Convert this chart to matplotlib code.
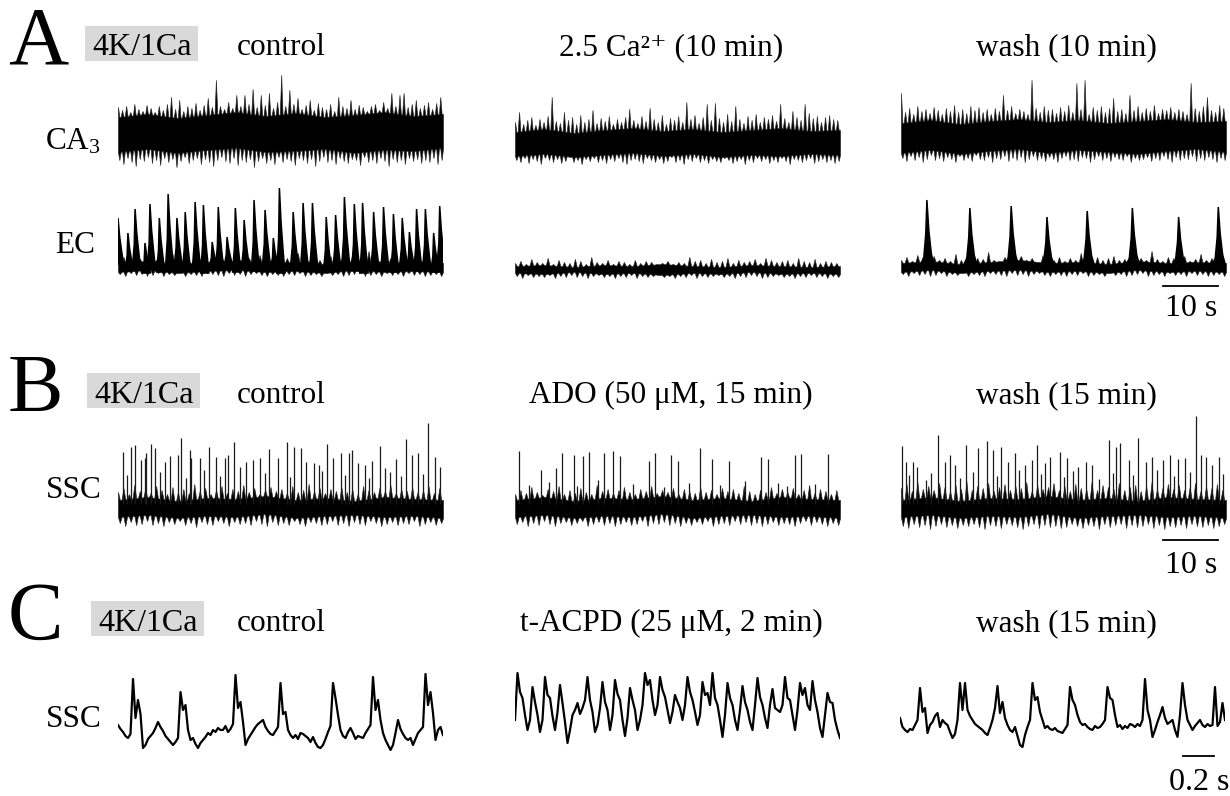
import numpy as np
import matplotlib.pyplot as plt
from matplotlib.patches import Rectangle

plt.rcParams['font.family'] = ['Liberation Serif', 'DejaVu Serif']
plt.rcParams['mathtext.fontset'] = 'custom'
plt.rcParams['mathtext.rm'] = 'Liberation Serif'
plt.rcParams['mathtext.it'] = 'Liberation Serif:italic'

# ---------------- data (amplitudes in a.u., times in s) ----------------
dur_long = 59.0     # A / B sweeps
dur_short = 2.1     # C sweeps

# A, CA3: noise band -> upper / lower excursions sampled evenly, plus core band
ca3_ctrl_up = [65, 62, 66, 60, 68, 63, 61, 67, 64, 60, 66, 62, 68, 75, 63, 72, 61, 66, 64, 69,
               62, 67, 74, 65, 92, 66, 63, 70, 64, 77, 66, 77, 68, 83, 65, 77, 67, 79, 64, 70,
               97, 66, 82, 68, 74, 63, 67, 72, 62, 69, 65, 63, 68, 61, 75, 66, 64, 72, 63, 67,
               65, 61, 66, 68, 62, 70, 64, 79, 66, 77, 79, 65, 68, 72, 64, 67, 70, 63, 69, 75]
ca3_ctrl_dn = [12, 8, 14, 10, 6, 13, 11, 15, 9, 12, 7, 14, 10, 13, 5, 11, 15, 9, 12, 14,
               8, 13, 10, 6, 12, 15, 11, 9, 14, 7, 12, 10, 13, 5, 11, 14, 9, 12, 8, 15,
               10, 13, 11, 7, 14, 12, 9, 13, 6, 11, 15, 10, 12, 8, 14, 11, 9, 13, 12, 7,
               15, 10, 12, 9, 14, 11, 6, 13, 10, 12, 8, 14, 11, 13, 9, 12, 10, 14, 8, 12]
ca3_ctrl_core = ([20, 23, 19, 22, 24, 20, 21, 23, 19, 22, 21, 24],
                 [55, 58, 54, 57, 60, 56, 59, 55, 57, 60, 56, 58])

ca3_ca_up = [50, 60, 48, 52, 55, 47, 53, 50, 56, 75, 51, 49, 60, 52, 55, 48, 57, 50, 53, 62,
             49, 54, 51, 56, 48, 53, 50, 55, 63, 52, 49, 56, 51, 64, 53, 50, 57, 48, 54, 52,
             56, 50, 70, 53, 57, 49, 55, 68, 52, 69, 54, 50, 58, 51, 66, 53, 49, 56, 52, 58,
             50, 55, 53, 57, 51, 68, 54, 50, 61, 55, 52, 68, 59, 54, 56, 50, 55, 57, 53, 52]
ca3_ca_dn = [12, 10, 14, 9, 13, 11, 8, 14, 12, 10, 13, 9, 11, 15, 10, 12, 8, 13, 11, 14,
             10, 12, 9, 13, 11, 14, 10, 8, 12, 13, 11, 9, 14, 12, 10, 13, 9, 11, 15, 10,
             12, 8, 13, 11, 14, 10, 12, 9, 13, 11, 10, 14, 12, 9, 11, 13, 8, 12, 10, 14,
             11, 13, 9, 12, 10, 14, 11, 8, 13, 12, 10, 12, 14, 9, 11, 13, 10, 12, 9, 11]
ca3_ca_core = ([16, 18, 15, 17, 19, 16, 18, 15, 17, 16, 18, 17],
               [40, 43, 39, 42, 44, 41, 43, 40, 42, 44, 41, 42])

ca3_wash_up = [79, 60, 64, 58, 66, 61, 63, 59, 65, 62, 58, 64, 61, 67, 60, 63, 59, 66, 62, 65,
               60, 63, 58, 64, 61, 77, 62, 66, 59, 63, 61, 58, 92, 64, 60, 66, 62, 63, 59, 65,
               61, 67, 60, 89, 63, 92, 58, 65, 62, 66, 60, 64, 74, 61, 63, 59, 77, 62, 66, 60,
               64, 61, 67, 59, 63, 62, 65, 60, 63, 61, 58, 89, 64, 61, 66, 75, 62, 60, 67, 64]
ca3_wash_dn = [14, 11, 16, 12, 15, 10, 13, 17, 12, 14, 11, 15, 13, 10, 16, 12, 14, 11, 17, 13,
               12, 15, 10, 14, 13, 16, 11, 14, 12, 15, 10, 13, 16, 12, 14, 11, 15, 13, 10, 14,
               16, 12, 13, 11, 15, 14, 10, 13, 16, 12, 14, 11, 15, 13, 12, 16, 10, 14, 12, 13,
               15, 11, 14, 12, 16, 13, 10, 15, 12, 14, 13, 16, 11, 14, 12, 15, 13, 10, 14, 12]
ca3_wash_core = ([19, 22, 18, 21, 23, 19, 22, 20, 18, 21, 23, 20],
                 [49, 52, 48, 51, 53, 50, 52, 49, 51, 53, 50, 51])

# A, EC: burst peaks (time, amplitude) on a noisy baseline
ec_ctrl_t = [0.0, 1.8, 3.1, 4.9, 5.8, 7.5, 9.1, 10.7, 12.2, 14.0, 15.5, 17.1, 18.2, 19.8, 21.3,
             22.9, 24.7, 26.7, 28.2, 29.3, 31.8, 33.6, 35.3, 37.8, 39.5, 41.1, 42.9, 44.4, 46.4,
             48.2, 50.0, 51.6, 52.9, 54.2, 55.8, 57.3, 58.4]
ec_ctrl_peak = [64, 49, 73, 39, 78, 64, 88, 64, 70, 80, 77, 40, 75, 45, 74, 62, 82, 72, 44, 94,
                70, 79, 79, 65, 67, 85, 78, 79, 70, 75, 68, 64, 50, 73, 73, 49, 76]
ec_ctrl_trough = [18, 11, 14, 9, 13, 10, 12, 15, 11, 13, 9, 14, 12, 16, 10, 13, 11, 15, 12, 9,
                  14, 11, 13, 10, 12, 15, 11, 9, 13, 12, 10, 14, 12, 11, 13, 10, 15]
ec_wash_t = [4.7, 12.5, 20.0, 26.5, 33.8, 42.0, 50.4, 57.6]
ec_wash_peak = [82, 74, 76, 65, 71, 74, 65, 75]
# burst waveform: time offsets (s) and fraction of peak height
ec_ctrl_shape = ([-0.5, -0.15, 0.0, 0.3, 0.6, 1.0], [0.0, 0.4, 1.0, 0.6, 0.33, 0.0])
ec_wash_shape = ([-1.3, -0.55, -0.2, 0.0, 0.35, 0.8, 1.4], [0.0, 0.15, 0.5, 1.0, 0.55, 0.2, 0.0])

ec_ca_up = [19, 21, 18, 23, 20, 19, 24, 18, 22, 20, 19, 23, 21, 18, 25, 20, 19, 22, 18, 21,
            20, 18, 22, 19, 21, 20, 18, 19, 21, 18, 20, 19, 25, 21, 22, 19, 23, 20, 21, 24,
            19, 22, 20, 21, 23, 19, 24, 22, 20, 21, 22, 19, 24, 21, 20, 23, 19, 21, 20, 19]
ec_ca_dn = [6, 4, 7, 5, 6, 5, 7, 4, 6, 5, 7, 5, 6, 4, 6, 7, 5, 6, 4, 6,
            5, 7, 4, 6, 5, 6, 7, 5, 6, 4, 6, 5, 7, 4, 6, 5, 6, 7, 5, 6,
            4, 6, 5, 7, 6, 4, 5, 6, 7, 5, 6, 4, 6, 5, 7, 5, 6, 4, 6, 5]
ec_ca_core = ([9, 8, 10, 8, 9, 7, 9, 8, 10, 8, 9, 8],
              [16, 17, 15, 17, 16, 18, 16, 15, 17, 16, 15, 16])

ec_base_up = [22, 25, 21, 27, 23, 20, 26, 22, 24, 21, 28, 22, 25, 21, 24, 23, 30, 22, 21, 25,
              23, 21, 26, 22, 24, 20, 27, 23, 22, 25, 21, 24, 22, 29, 23, 21, 25, 22, 24, 26,
              22, 23, 21, 27, 24, 22, 31, 23, 21, 25, 24, 22, 26, 21, 23, 28, 22, 24, 21, 23]
ec_base_dn = [8, 6, 9, 7, 8, 6, 7, 9, 6, 8, 7, 9, 6, 8, 7, 6, 9, 8, 7, 6,
              9, 7, 8, 6, 8, 9, 7, 6, 8, 7, 6, 8, 7, 9, 6, 7, 8, 6, 9, 7,
              8, 6, 7, 8, 9, 6, 7, 8, 6, 9, 7, 8, 6, 9, 7, 8, 6, 7, 8, 6]
ec_base_core = ([10, 12, 9, 11, 12, 10, 11, 9, 12, 10, 11, 10],
                [19, 21, 18, 20, 22, 19, 20, 18, 21, 19, 20, 19])

# B, SSC: spikes (time, amplitude) over a noise band
ssc_ctrl_t = [0.9, 2.4, 3.1, 4.2, 4.9, 5.1, 6.0, 6.7, 8.5, 9.5, 10.9, 11.5, 13.1, 13.3, 14.9,
              16.5, 17.8, 19.5, 20.0, 21.1, 22.2, 23.3, 24.5, 25.8, 27.5, 29.1, 30.7, 32.0,
              33.3, 34.2, 35.5, 36.4, 38.0, 39.1, 40.5, 42.0, 42.4, 43.6, 44.9, 46.2, 47.6,
              48.5, 50.4, 52.2, 53.3, 54.4, 56.2, 57.6, 58.5,
              1.6, 7.6, 12.3, 15.6, 18.6, 26.6, 31.2, 37.1, 41.2, 45.6, 49.4, 51.3, 55.3]
ssc_ctrl_h = [78, 83, 85, 70, 72, 77, 86, 82, 68, 74, 75, 92, 80, 72, 72, 83, 73, 72, 75, 88,
              63, 68, 70, 72, 81, 72, 88, 83, 82, 68, 67, 65, 86, 72, 77, 77, 80, 67, 65, 69,
              84, 62, 71, 91, 75, 77, 107, 73, 63,
              55, 58, 52, 60, 54, 57, 53, 59, 55, 52, 58, 54, 56]
ssc_ado_t = [0.7, 4.7, 7.5, 8.5, 10.7, 12.4, 13.5, 16.2, 17.8, 19.1, 24.4, 25.5, 28.4, 29.5,
             33.6, 35.8, 38.9, 44.7, 46.0, 47.8, 50.9, 52.0, 56.9,
             2.5, 6.1, 11.3, 15.0, 21.5, 27.0, 31.5, 37.2, 41.8, 49.3, 54.5]
ssc_ado_h = [79, 60, 62, 77, 75, 74, 78, 77, 79, 74, 69, 77, 75, 69, 82, 71, 69, 73, 71, 47,
             75, 76, 76,
             45, 48, 44, 50, 46, 43, 47, 45, 49, 44, 46]
ssc_wash_t = [0.2, 0.9, 2.2, 2.9, 6.7, 8.0, 8.9, 9.8, 11.8, 14.0, 15.6, 16.7, 18.2, 19.5, 20.7,
              22.5, 23.8, 24.7, 26.2, 27.1, 28.9, 30.2, 32.2, 33.5, 34.7, 37.8, 39.1, 39.8,
              41.3, 43.1, 44.5, 45.6, 47.6, 48.9, 50.2, 51.6, 53.5, 54.4, 55.3, 56.5, 57.8,
              1.5, 4.5, 5.5, 10.8, 13.0, 17.5, 21.5, 25.5, 29.5, 31.2, 36.0, 38.5, 42.2, 46.5,
              49.5, 52.5, 58.5]
ssc_wash_h = [84, 68, 68, 63, 95, 68, 75, 65, 85, 82, 89, 80, 83, 68, 77, 65, 70, 85, 67, 73,
              78, 72, 63, 68, 65, 90, 83, 87, 70, 92, 68, 73, 70, 75, 71, 72, 114, 75, 73, 65,
              73,
              55, 50, 57, 52, 58, 54, 60, 56, 53, 59, 51, 57, 55, 60, 54, 58, 56]

ssc_ctrl_up = [38, 42, 36, 45, 39, 41, 37, 44, 40, 36, 43, 38, 41, 37, 46, 39, 42, 36, 40, 44,
               37, 41, 39, 45, 38, 42, 36, 40, 43, 39, 41, 37, 44, 38, 40, 46, 39, 42, 37, 41,
               39, 43, 38, 41, 36, 44, 40, 38, 42, 39, 45, 37, 41, 39, 43, 38, 40, 44, 37, 42]
ssc_ctrl_dn = [7, 4, 8, 5, 6, 9, 5, 7, 4, 8, 6, 9, 5, 7, 3, 8, 6, 5, 9, 7,
               4, 8, 6, 7, 5, 9, 6, 4, 8, 5, 7, 5, 9, 6, 4, 8, 7, 5, 6, 9,
               5, 7, 4, 8, 6, 5, 9, 7, 4, 6, 8, 5, 7, 6, 9, 4, 6, 8, 5, 7]
ssc_ado_up = [36, 40, 37, 43, 38, 35, 41, 39, 44, 36, 40, 37, 42, 38, 36, 45, 39, 41, 37, 40,
              43, 38, 36, 41, 39, 44, 37, 40, 38, 42, 36, 41, 39, 37, 43, 38, 40, 36, 42, 39,
              41, 37, 44, 39, 36, 40, 38, 43, 37, 41, 38, 42, 36, 40, 45, 37, 41, 39, 36, 40]
ssc_ado_dn = [6, 8, 4, 7, 5, 9, 6, 4, 7, 8, 5, 7, 9, 4, 6, 8, 5, 7, 4, 6,
              8, 5, 6, 9, 4, 7, 6, 8, 5, 7, 4, 7, 5, 8, 6, 9, 4, 6, 7, 5,
              9, 6, 8, 5, 7, 4, 6, 8, 5, 7, 6, 4, 7, 9, 5, 8, 6, 4, 7, 5]
ssc_wash_up = [42, 46, 39, 48, 41, 44, 40, 47, 43, 39, 45, 41, 49, 40, 44, 42, 47, 39, 43, 46,
               40, 44, 42, 48, 39, 45, 41, 43, 47, 40, 44, 39, 46, 42, 41, 49, 40, 45, 43, 41,
               47, 40, 43, 45, 39, 44, 48, 41, 42, 46, 41, 45, 40, 43, 47, 39, 44, 42, 46, 40]
ssc_wash_dn = [4, 2, 6, 3, 5, 1, 4, 6, 3, 5, 2, 5, 4, 6, 3, 1, 5, 4, 2, 6,
               5, 3, 1, 4, 6, 2, 5, 3, 4, 2, 3, 6, 4, 2, 5, 4, 1, 6, 3, 5,
               6, 2, 5, 3, 4, 6, 2, 5, 1, 4, 3, 5, 2, 6, 4, 3, 5, 2, 4, 6]
ssc_core = ([13, 15, 12, 14, 13, 16, 12, 14, 15, 13, 14, 12],
            [30, 33, 29, 32, 31, 34, 30, 32, 29, 33, 31, 30])

# C, SSC field potentials, sampled evenly over 2.1 s
ssc_c_ctrl = [35, 31, 28, 24, 22, 26, 81, 42, 60, 46, 12, 15, 21, 24, 27, 32, 38, 33, 29, 24,
              21, 18, 15, 18, 22, 68, 50, 55, 30, 20, 22, 16, 12, 17, 20, 23, 27, 25, 30, 28,
              32, 30, 30, 34, 28, 31, 36, 85, 52, 58, 38, 15, 21, 25, 29, 33, 36, 38, 40, 33,
              29, 26, 25, 29, 33, 77, 46, 48, 30, 25, 22, 25, 21, 27, 26, 24, 22, 18, 23, 17,
              13, 12, 15, 21, 28, 34, 77, 62, 45, 30, 24, 22, 28, 32, 27, 21, 24, 23, 22, 27,
              31, 35, 83, 50, 60, 40, 27, 20, 15, 10, 15, 27, 40, 31, 26, 22, 20, 22, 15, 21,
              27, 30, 33, 86, 55, 68, 47, 20, 30, 33, 25]
ssc_c_acpd = [40, 87, 68, 62, 45, 30, 40, 73, 58, 45, 28, 40, 83, 65, 62, 44, 30, 48, 75, 57,
              38, 17, 30, 45, 50, 57, 46, 52, 60, 83, 60, 48, 28, 35, 52, 78, 58, 50, 30, 45,
              80, 66, 60, 40, 24, 42, 72, 60, 50, 30, 40, 55, 87, 75, 80, 60, 45, 55, 83, 70,
              63, 50, 37, 48, 65, 58, 52, 40, 55, 83, 68, 60, 48, 35, 45, 78, 65, 67, 55, 87,
              62, 55, 40, 23, 45, 77, 62, 55, 40, 30, 50, 74, 58, 50, 38, 30, 55, 82, 63, 55,
              42, 32, 55, 71, 52, 50, 48, 55, 83, 62, 60, 45, 30, 50, 77, 65, 72, 55, 50, 79,
              60, 48, 32, 23, 45, 67, 58, 57, 40, 30, 22]
ssc_c_wash = [42, 33, 30, 28, 31, 30, 35, 40, 72, 48, 52, 27, 35, 38, 44, 47, 33, 40, 37, 35,
              28, 22, 26, 40, 77, 50, 77, 50, 44, 40, 36, 34, 32, 30, 27, 25, 32, 40, 52, 74,
              47, 58, 42, 35, 30, 28, 33, 24, 15, 13, 25, 33, 40, 77, 60, 63, 48, 40, 32, 34,
              31, 30, 32, 29, 28, 27, 31, 35, 73, 60, 55, 45, 38, 35, 36, 33, 31, 30, 34, 32,
              33, 36, 40, 73, 62, 60, 45, 33, 35, 31, 34, 32, 36, 35, 33, 36, 34, 40, 81, 50,
              40, 23, 30, 38, 45, 53, 42, 36, 38, 40, 30, 23, 45, 77, 55, 40, 35, 30, 34, 37,
              40, 35, 33, 36, 34, 35, 73, 34, 38, 57, 40]

scalebar_long = 10.0
scalebar_short = 0.2

# ---------------- layout (pixels of a 1230 x 796 canvas) ----------------
W, H = 1230, 796
fig = plt.figure(figsize=(W / 100, H / 100), dpi=100)
fig.patch.set_facecolor('white')


def trace_ax(x0, top, bottom, dur, width=325):
    ax = fig.add_axes([x0 / W, 1 - bottom / H, width / W, (bottom - top) / H])
    ax.set_xlim(0, dur)
    ax.set_ylim(0, bottom - top)
    ax.axis('off')
    return ax


def noise_band(ax, up, dn, core, dur):
    # three drawing steps per sample: upward excursion, downward excursion, core
    n = len(up)
    t = np.linspace(0, dur, 3 * n)
    tc = np.linspace(0, dur, len(core[0]))
    top = np.interp(t, tc, core[1])
    bot = np.interp(t, tc, core[0])
    top[0::3] = up
    bot[1::3] = dn
    ax.fill_between(t, bot, top, color='black', lw=0.5, edgecolor='#2a2a2a')


def bursts(ax, times, peaks, base, shape):
    dt, frac = shape
    for i, (tp, pk) in enumerate(zip(times, peaks)):
        b = base[i] if np.ndim(base) else base
        tt = [tp + d for d in dt]
        vv = [b + f * (pk - b) for f in frac]
        ax.fill(tt, vv, color='black', lw=1.1)


def spikes(ax, times, heights, base=26):
    ax.vlines(times, base, heights, color='#1a1a1a', lw=0.9)


cols = [118, 515, 901]
rowA1, rowA2, rowB, rowC = (70, 172), (182, 282), (405, 530), (655, 760)

# A: CA3
for x0, up, dn, core in zip(cols, [ca3_ctrl_up, ca3_ca_up, ca3_wash_up],
                            [ca3_ctrl_dn, ca3_ca_dn, ca3_wash_dn],
                            [ca3_ctrl_core, ca3_ca_core, ca3_wash_core]):
    noise_band(trace_ax(x0, *rowA1, dur_long), up, dn, core, dur_long)

# A: EC
ax = trace_ax(cols[0], *rowA2, dur_long)
noise_band(ax, ec_base_up, ec_base_dn, ec_base_core, dur_long)
bursts(ax, ec_ctrl_t, ec_ctrl_peak, ec_ctrl_trough, ec_ctrl_shape)
ax = trace_ax(cols[1], *rowA2, dur_long)
noise_band(ax, ec_ca_up, ec_ca_dn, ec_ca_core, dur_long)
axw = trace_ax(cols[2], *rowA2, dur_long)
noise_band(axw, ec_base_up, ec_base_dn, ec_base_core, dur_long)
bursts(axw, ec_wash_t, ec_wash_peak, 15, ec_wash_shape)
axw.plot([57.6 - scalebar_long, 57.6], [-4, -4], color='black', lw=1.3, clip_on=False)
axw.text(57.6 - scalebar_long / 2, -34, '10 s', ha='center', va='baseline',
         fontsize=23, clip_on=False)

# B: SSC
for x0, st, sh, up, dn in zip(cols, [ssc_ctrl_t, ssc_ado_t, ssc_wash_t],
                              [ssc_ctrl_h, ssc_ado_h, ssc_wash_h],
                              [ssc_ctrl_up, ssc_ado_up, ssc_wash_up],
                              [ssc_ctrl_dn, ssc_ado_dn, ssc_wash_dn]):
    ax = trace_ax(x0, *rowB, dur_long)
    noise_band(ax, up, dn, ssc_core, dur_long)
    spikes(ax, st, sh)
ax.plot([57.6 - scalebar_long, 57.6], [-10, -10], color='black', lw=1.3, clip_on=False)
ax.text(57.6 - scalebar_long / 2, -43, '10 s', ha='center', va='baseline',
        fontsize=23, clip_on=False)

# C: SSC
for x0, vals in zip([118, 515, 900], [ssc_c_ctrl, ssc_c_acpd, ssc_c_wash]):
    ax = trace_ax(x0, *rowC, dur_short)
    ax.plot(np.linspace(0, dur_short, len(vals)), vals, color='black', lw=1.6)
ax.plot([2.03 - scalebar_short, 2.03], [4, 4], color='black', lw=1.3, clip_on=False)
ax.text(2.03 - scalebar_short / 2, -30, '0.2 s', ha='center', va='baseline',
        fontsize=23, clip_on=False)


# ---------------- text ----------------
def ftext(x, y, s, **kw):
    fig.text(x / W, 1 - y / H, s, va='baseline', **kw)


titles = [['control', '2.5 Ca²⁺ (10 min)', 'wash (10 min)'],
          ['control', 'ADO (50 μM, 15 min)', 'wash (15 min)'],
          ['control', 't-ACPD (25 μM, 2 min)', 'wash (15 min)']]
for letter, base, box, tl in zip('ABC', [55, 403, 631],
                                 [(85, 26), (87, 373), (91, 601)], titles):
    ftext(8, base + 8, letter, fontsize=60)
    fig.patches.append(Rectangle((box[0] / W, 1 - (box[1] + 35) / H), 113 / W, 35 / H,
                                 transform=fig.transFigure, color='#d9d9d9', lw=0))
    ftext(box[0] + 57, base, '4K/1Ca', fontsize=23, ha='center')
    ftext(237, base, tl[0], fontsize=22.5)
    ftext(671, base, tl[1], fontsize=22.5, ha='center')
    ftext(1066, base, tl[2], fontsize=22.5, ha='center')

ftext(45, 150, r'CA$_3$', fontsize=22.5)
ftext(55, 253, 'EC', fontsize=22.5)
ftext(46, 498, 'SSC', fontsize=22.5)
ftext(46, 727, 'SSC', fontsize=22.5)

fig.savefig('out.png', dpi=100, facecolor='white')
